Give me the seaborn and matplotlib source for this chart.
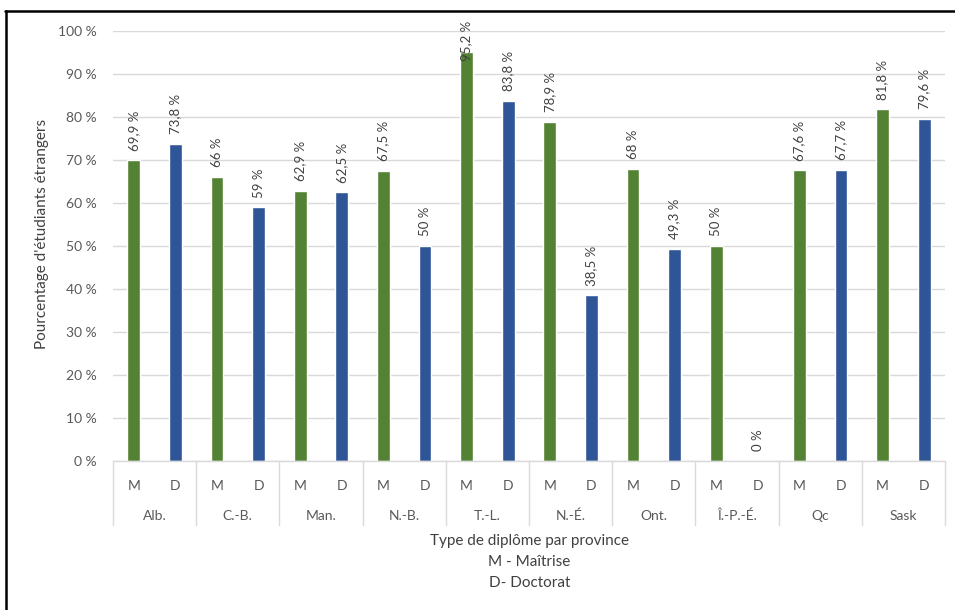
import matplotlib.pyplot as plt
import matplotlib.transforms as mtransforms
import pandas as pd
import seaborn as sns

# Donnees
provinces = ["Alb.", "C.-B.", "Man.", "N.-B.", "T.-L.", "N.-É.", "Ont.", "Î.-P.-É.", "Qc", "Sask"]
maitrise = [69.9, 66, 62.9, 67.5, 95.2, 78.9, 68, 50, 67.6, 81.8]
doctorat = [73.8, 59, 62.5, 50, 83.8, 38.5, 49.3, 0, 67.7, 79.6]
types = ["M", "D"]
couleurs = {"M": "#548235", "D": "#2F5597"}

df = pd.DataFrame({
    "province": provinces * 2,
    "type": ["M"] * len(provinces) + ["D"] * len(provinces),
    "valeur": maitrise + doctorat,
})

sns.set_style("white")
plt.rcParams["font.family"] = ["Lato", "DejaVu Sans"]

fig = plt.figure(figsize=(9.55, 6.10), dpi=100)
ax = fig.add_axes([0.1183, 0.2443, 0.8712, 0.7049])

sns.barplot(data=df, x="province", y="valeur", hue="type", hue_order=types,
            order=provinces, palette=couleurs, width=1.0, gap=0.69,
            legend=False, ax=ax, saturation=1)

ax.set_ylim(0, 100)
ax.set_xlim(-0.5, len(provinces) - 0.5)
ax.set_yticks(range(0, 101, 10))
ax.set_yticklabels([f"{v} %" for v in range(0, 101, 10)], color="#595959", fontsize=10)
ax.tick_params(axis="y", length=0, pad=12)
ax.grid(axis="y", color="#D9D9D9", linewidth=1)
ax.set_axisbelow(True)
for s in ax.spines.values():
    s.set_visible(False)

# etiquettes des barres (verticales) ; Excel garde l'etiquette dans la zone
px_per_unit = 430 / 100
for cont in ax.containers:
    for bar in cont:
        h = bar.get_height()
        txt = f"{h:g}".replace(".", ",") + " %"
        offset = 7
        # hauteur approx. du texte ~ 44 px, plafond a ~14 px au-dessus de 100 %
        room = (100 - h) * px_per_unit + 14 - 44
        if room < offset / 0.72:
            offset = room * 0.72
        ax.annotate(txt, (bar.get_x() + bar.get_width() / 2, h),
                    xytext=(0, offset), textcoords="offset points",
                    rotation=90, ha="center", va="bottom",
                    fontsize=9.5, color="#404040", annotation_clip=False)

# axe x en tableau : M / D puis province
pos = []
labs = []
for i in range(len(provinces)):
    pos += [i - 0.25, i + 0.25]
    labs += types
ax.set_xticks(pos)
ax.set_xticklabels(labs, color="#595959", fontsize=10)
ax.tick_params(axis="x", length=0, pad=14)

trans = mtransforms.blended_transform_factory(ax.transData, ax.transAxes)
ax.plot([-0.5, len(provinces) - 0.5], [0, 0], color="#D9D9D9", lw=1,
        transform=trans, clip_on=False)
for i in range(len(provinces) + 1):
    ax.plot([i - 0.5, i - 0.5], [0, -0.149], color="#D9D9D9", lw=1,
            transform=trans, clip_on=False)
for i, p in enumerate(provinces):
    ax.text(i, -0.128, p, transform=trans, ha="center", va="center",
            fontsize=10, color="#595959")

ax.set_xlabel("")
ax.set_ylabel("")
fig.text(0.5545, 1 - 562 / 610, "Type de diplôme par province\nM - Maîtrise\nD- Doctorat",
         ha="center", va="center", fontsize=11, color="#404040", linespacing=1.65)
fig.text(42 / 955, 1 - 234 / 610, "Pourcentage d'étudiants étrangers", rotation=90,
         ha="center", va="center", fontsize=11, color="#404040")

# cadre de l'image
fig.add_artist(plt.Line2D([5 / 955, 1], [1 - 10.5 / 610, 1 - 10.5 / 610],
                          color="black", lw=1.8, transform=fig.transFigure))
fig.add_artist(plt.Line2D([5.5 / 955, 5.5 / 955], [0, 1 - 10.5 / 610],
                          color="black", lw=1.8, transform=fig.transFigure))

fig.savefig("out.png", dpi=100, facecolor="white")
